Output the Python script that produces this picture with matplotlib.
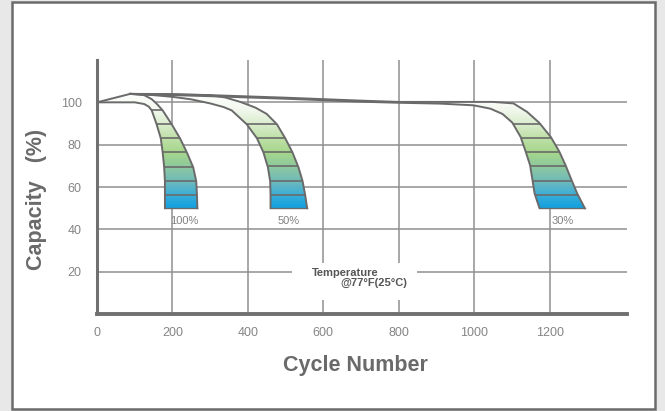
import numpy as np
import matplotlib
matplotlib.use('Agg')
from matplotlib import pyplot as plt
from matplotlib.patches import Polygon, Rectangle
from matplotlib.colors import LinearSegmentedColormap

plt.rcParams['font.family'] = ['Liberation Sans', 'DejaVu Sans']

# 放電深度ごとの容量推移（右側の縁と左側の縁）
dod_labels = ['100%', '50%', '30%']

r100_x = [0, 88, 125, 145, 160, 174, 198, 220, 238, 255, 263, 265, 266]
r100_y = [100, 104, 103.4, 101.5, 99, 96.2, 89.6, 83, 76.4, 69.3, 62.7, 56, 50]
l100_x = [0, 100, 125, 137, 145, 158, 169, 174, 178, 180, 180, 180]
l100_y = [100, 100, 99.2, 98, 96.2, 89.6, 83, 76.4, 69.3, 62.7, 56, 50]

r50_x = [88, 200, 300, 340, 380, 420, 450, 477, 499, 518, 534, 545, 552, 557]
r50_y = [104, 103.9, 103.4, 102.3, 100.2, 97.5, 94.5, 89.6, 83, 76.4, 69.3, 62.7, 56, 50]
l50_x = [88, 150, 200, 250, 300, 335, 357, 397, 424, 441, 453, 459, 460, 460]
l50_y = [104, 103.4, 102.6, 101.4, 99.5, 97.8, 96.2, 89.6, 83, 76.4, 69.3, 62.7, 56, 50]

r30_x = [88, 300, 500, 700, 800, 950, 1050, 1104, 1140, 1172, 1203, 1225, 1242, 1257, 1273, 1293]
r30_y = [104, 103.4, 102.2, 100.8, 100.2, 100.2, 100.2, 99.5, 95.5, 90.4, 83.6, 76.9, 70.3, 63.7, 56.9, 50]
l30_x = [88, 300, 500, 700, 800, 910, 998, 1043, 1075, 1101, 1123, 1136, 1148, 1154, 1160, 1173]
l30_y = [104, 102.9, 101.7, 100.3, 99.8, 99.4, 98.6, 97, 94.5, 90.4, 83.6, 76.9, 70.3, 63.7, 56.9, 50]

# 帯の横縞の位置
stripes_100 = [56, 62.7, 69.3, 76.4, 83, 89.6, 96.2]
stripes_other = [56.3, 63, 69.8, 76.6, 83.3, 90]

label_x = [195, 480, 1205]
label_y = 44

xticks = [0, 200, 400, 600, 800, 1000, 1200]
yticks = [20, 40, 60, 80, 100]

# グラデーション（容量の値に対する色）
stops = [(50, '#12a0e0'), (56, '#3aaed8'), (62, '#6cb8bc'), (69, '#8cc8a0'),
         (76, '#a5d68b'), (83, '#bfe0a8'), (90, '#dcedd0'), (97, '#f4f9f0'),
         (105, '#ffffff')]
cmap = LinearSegmentedColormap.from_list(
    'band', [((v - 50) / 55, c) for v, c in stops])

edge = '#6a6a6a'
grid = '#8f8f8f'

fig = plt.figure(figsize=(6.65, 4.11), dpi=100)
fig.patch.set_facecolor('#e8e8e8')
fig.patches.append(Rectangle((0.018, 0.005), 0.967, 0.99, transform=fig.transFigure,
                             facecolor='white', edgecolor='#6b6b6b', lw=1.8, zorder=-1))

ax = fig.add_axes([0.1459, 0.236, 0.797, 0.618])
ax.set_facecolor('none')

# グリッド
for v in yticks:
    ax.axhline(v, color=grid, lw=1.1, zorder=1)
for v in xticks[1:]:
    ax.axvline(v, color=grid, lw=1.1, zorder=1)

# 温度表示の白い枠
ax.add_patch(Rectangle((0.368, 0.055), 0.236, 0.145, transform=ax.transAxes,
                       facecolor='white', edgecolor='none', zorder=1.5))
ax.text(0.468, 0.161, 'Temperature', transform=ax.transAxes, ha='center', va='center',
        fontsize=8, fontweight='bold', color='#555555', zorder=6)
ax.text(0.523, 0.122, '@77°F(25°C)', transform=ax.transAxes, ha='center', va='center',
        fontsize=8, fontweight='bold', color='#555555', zorder=6)

grad = np.linspace(50, 105, 300).reshape(-1, 1)
bands = [(r100_x, r100_y, l100_x, l100_y, stripes_100),
         (r50_x, r50_y, l50_x, l50_y, stripes_other),
         (r30_x, r30_y, l30_x, l30_y, stripes_other)]

for i, (rx, ry, lx, ly, st) in enumerate(bands):
    verts = list(zip(rx, ry)) + list(zip(lx, ly))[::-1]
    poly = Polygon(verts, closed=True, facecolor='none', edgecolor='none', zorder=2)
    ax.add_patch(poly)
    x0, x1 = min(lx + rx), max(lx + rx)
    im = ax.imshow(grad, extent=[x0, x1, 50, 105], origin='lower', aspect='auto',
                   cmap=cmap, vmin=50, vmax=105, zorder=2)
    im.set_clip_path(poly)
    for s in st:
        ln = ax.plot([x0, x1], [s, s], color=edge, lw=1.2, zorder=3)[0]
        ln.set_clip_path(poly)
    ax.plot(rx, ry, color=edge, lw=1.4, zorder=4)
    ax.plot(lx, ly, color=edge, lw=1.4, zorder=4)
    ax.plot([lx[-1], rx[-1]], [ly[-1], ry[-1]], color=edge, lw=1.0, zorder=4)
    ax.text(label_x[i], label_y, dod_labels[i], fontsize=8, color='#808080',
            ha='left', va='center', zorder=5)

ax.set_xlim(0, 1405)
ax.set_ylim(0, 120)
ax.set_xticks(xticks)
ax.set_yticks(yticks)
ax.tick_params(length=0, colors='#858585', labelsize=9)
ax.tick_params(axis='x', pad=9)
ax.tick_params(axis='y', pad=11)

for s in ['top', 'right']:
    ax.spines[s].set_visible(False)
ax.spines['left'].set_color('#707070')
ax.spines['left'].set_linewidth(2.2)
ax.spines['bottom'].set_color('#707070')
ax.spines['bottom'].set_linewidth(2.8)

ax.set_xlabel('Cycle Number', fontsize=15.5, fontweight='bold', color='#6a6a6a')
ax.xaxis.set_label_coords(0.487, -0.16)
ax.set_ylabel('Capacity   (%)', fontsize=15.5, fontweight='bold', color='#6a6a6a')
ax.yaxis.set_label_coords(-0.094, 0.45)

plt.savefig('out.png', dpi=100, facecolor=fig.get_facecolor())
